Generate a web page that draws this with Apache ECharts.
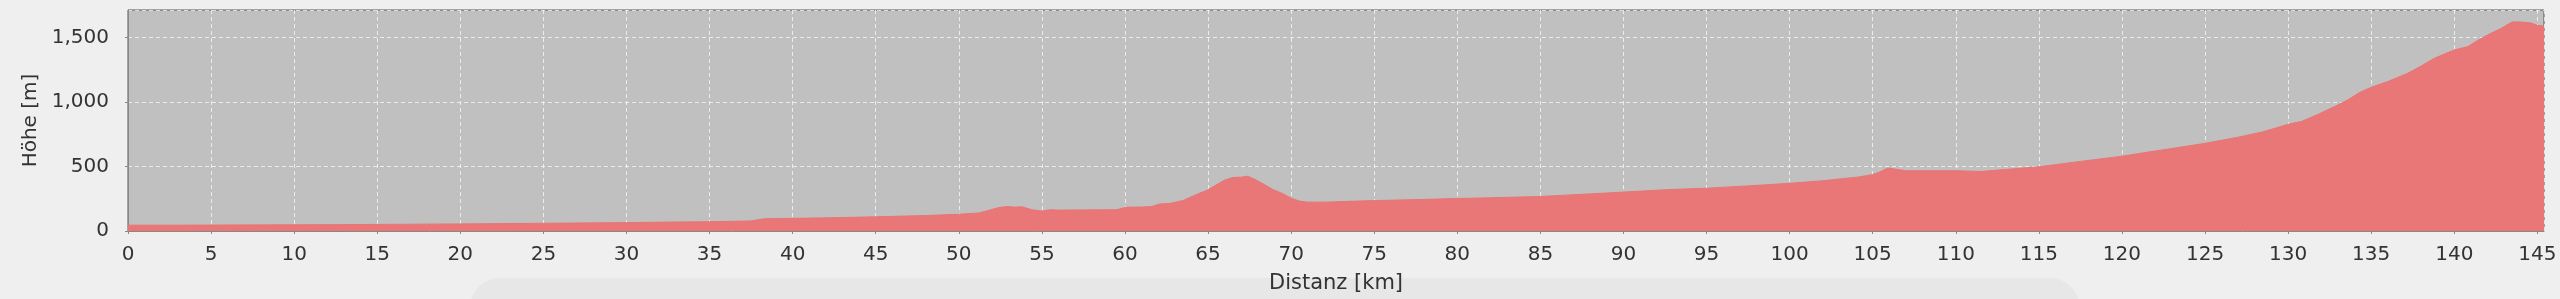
<!DOCTYPE html>
<html>
<head>
<meta charset="utf-8">
<script src="https://cdn.jsdelivr.net/npm/echarts@6/dist/echarts.min.js"></script>
<style>
html,body{margin:0;padding:0;background:#efefef;}
#c{width:2560px;height:299px;}
</style>
</head>
<body>
<div id="c"></div>
<script>
// Distance along route [km]
var dist = [0, 2, 5, 10, 15, 20, 23, 25, 30, 33, 35, 37.5, 38.3, 40, 42, 45, 48, 50, 51.2, 51.8,
  52.4, 52.9, 53.4, 53.8, 54.4, 55.0, 55.5, 56, 57, 58, 59.5, 60.1, 61, 61.6, 62.1, 62.7, 63.5,
  64.3, 64.9, 65.5, 66.0, 66.5, 67.0, 67.4, 67.9, 68.4, 68.9, 69.5, 70.0, 70.5, 71.0, 72, 73, 75,
  77, 80, 82, 85, 88, 90, 92.8, 95, 97.5, 100, 102, 104.2, 105, 105.5, 105.9, 106.3, 107, 108,
  110, 111.5, 113, 115, 117.5, 120, 121.7, 123, 125, 127, 128.5, 130, 130.8, 131.8, 132.8, 133.6,
  134.3, 135, 136, 137.2, 138, 138.8, 140, 140.8, 141.3, 141.8, 142.3, 142.8, 143.5, 144.0, 144.6,
  145.0, 145.4];
// Elevation [m]
var elev = [45, 45, 46, 48, 51, 55, 58, 60, 65, 70, 72, 78, 95, 98, 102, 110, 120, 130, 140, 160,
  182, 190, 185, 188, 165, 155, 165, 162, 163, 164, 165, 185, 186, 190, 210, 214, 237,
  283, 314, 358, 395, 415, 418, 425, 395, 360, 322, 290, 255, 232, 224, 224, 228, 236,
  242, 252, 258, 268, 288, 302, 322, 332, 350, 370, 390, 420, 438, 462, 489, 482, 468, 468,
  468, 462, 478, 498, 540, 580, 615, 640, 680, 728, 770, 828, 850, 905, 966, 1018,
  1075, 1115, 1160, 1224, 1280, 1340, 1405, 1430, 1470, 1507, 1540, 1571, 1623, 1622, 1615,
  1597, 1589];
var xTickStep = 5;
var yTickStep = 500;
var xMax = 145.4;
var yMax = 1715;

var points = dist.map(function (d, i) { return [d, elev[i]]; });

var chart = echarts.init(document.getElementById('c'), null, {renderer: 'canvas'});
var fontFamily = '"DejaVu Sans", sans-serif';
chart.setOption({
  backgroundColor: '#efefef',
  animation: false,
  graphic: [{
    type: 'rect',
    z: -10,
    shape: {x: 470, y: 278, width: 1610, height: 70, r: 30},
    style: {fill: 'rgba(0,0,0,0.03)', shadowBlur: 50, shadowColor: 'rgba(0,0,0,0.06)'}
  }],
  grid: {
    left: 128, right: 16, top: 10, bottom: 67,
    show: true, backgroundColor: '#c0c0c0', borderColor: '#555', borderWidth: 1
  },
  xAxis: {
    type: 'value', min: 0, max: xMax, interval: xTickStep,
    offset: 6,
    name: 'Distanz [km]', nameLocation: 'middle', nameGap: 36,
    nameTextStyle: {fontFamily: fontFamily, fontSize: 21, color: '#333'},
    axisLine: {show: true, lineStyle: {color: '#888', width: 1}},
    axisTick: {show: true, length: 3, lineStyle: {color: '#888'}},
    axisLabel: {fontFamily: fontFamily, fontSize: 20, color: '#333', margin: 8, showMaxLabel: false},
    splitLine: {show: true, lineStyle: {color: 'rgba(255,255,255,0.7)', width: 1, type: [4, 3]}}
  },
  yAxis: {
    type: 'value', min: 0, max: yMax, interval: yTickStep,
    offset: 7,
    name: 'Höhe [m]', nameLocation: 'middle', nameGap: 78, nameRotate: 90,
    nameTextStyle: {fontFamily: fontFamily, fontSize: 20, color: '#333'},
    axisLine: {show: true, lineStyle: {color: '#888', width: 1}},
    axisTick: {show: true, length: 3, lineStyle: {color: '#888'}},
    axisLabel: {fontFamily: fontFamily, fontSize: 20, color: '#333', margin: 12, showMaxLabel: false,
      formatter: function (v) { return v.toLocaleString('en-US'); }},
    splitLine: {show: true, lineStyle: {color: 'rgba(255,255,255,0.7)', width: 1, type: [4, 3]}}
  },
  series: [{
    type: 'line',
    data: points,
    symbol: 'none',
    smooth: false,
    lineStyle: {color: '#e97575', width: 1},
    areaStyle: {color: '#e97777', opacity: 1}
  }]
});
</script>
</body>
</html>
